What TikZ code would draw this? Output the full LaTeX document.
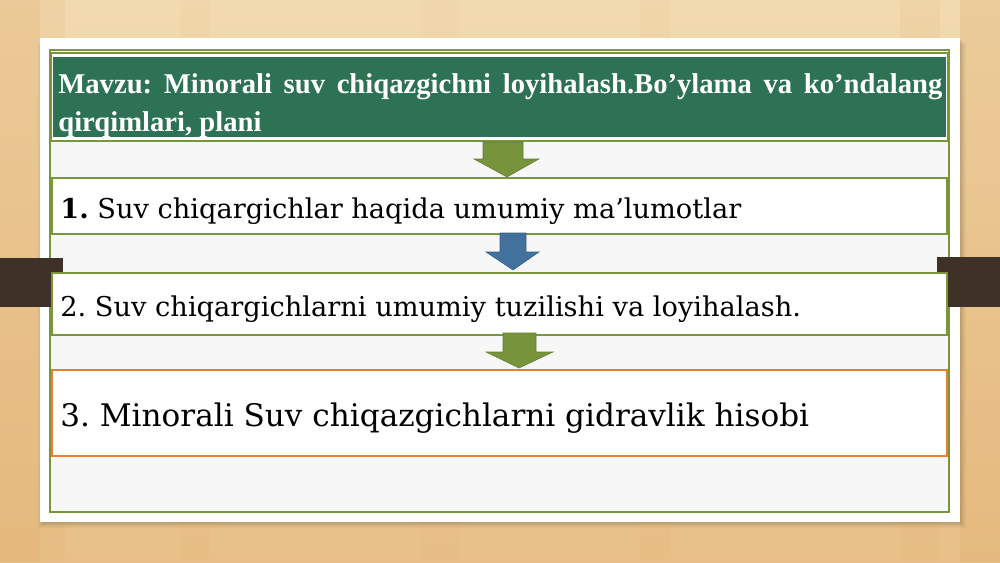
\documentclass[tikz,border=0pt]{standalone}
\usepackage{fontspec}
\setmainfont{DejaVu Serif}
\newfontfamily\titlefont{Liberation Serif}
\frenchspacing
\definecolor{wood}{RGB}{232,192,135}
\definecolor{woodlight}{RGB}{242,218,176}
\definecolor{woodstripe}{RGB}{224,172,108}
\definecolor{framegreen}{RGB}{122,150,58}
\definecolor{titlegreen}{RGB}{46,114,86}
\definecolor{arrowgreen}{RGB}{119,147,60}
\definecolor{arrowblue}{RGB}{65,113,156}
\definecolor{boxorange}{RGB}{237,125,49}
\definecolor{tabbrown}{RGB}{62,49,40}
\definecolor{panel}{RGB}{247,247,247}
\tikzset{
  stepbox/.style={draw=framegreen, fill=white, line width=.6pt},
  steptext/.style={anchor=base west, inner sep=0pt, font=\fontsize{15.5}{18}\selectfont},
  greenarrow/.style={fill=arrowgreen, draw=arrowgreen!85!black, line width=.3pt},
  bluearrow/.style={fill=arrowblue, draw=arrowblue!85!black, line width=.3pt}
}
\begin{document}
\begin{tikzpicture}[x=0.2mm,y=-0.2mm]
\useasboundingbox (0,0) rectangle (1000,562);
% wooden table
\shade [top color=woodlight, bottom color=wood] (0,0) rectangle (1000,562);
\foreach \x/\w/\o in {0/40/.35, 40/25/.15, 180/30/.08, 420/40/.06, 640/30/.08, 900/40/.12, 960/40/.3}
  \fill [woodstripe, opacity=\o] (\x,0) rectangle (\x+\w,562);
% card with shadow
\foreach \s/\o in {6/.04, 4/.06, 2/.08}
  \fill [black, opacity=\o] (40-\s+4,38+\s) rectangle (960+\s,522+\s);
\fill [white] (40,38) rectangle (960,522);
\fill [panel] (50,50) rectangle (949,512);
\draw [framegreen, line width=.6pt] (50,50) rectangle (949,512);
% side tabs
\fill [tabbrown] (0,258) rectangle (63,307);
\fill [tabbrown] (937,257) rectangle (1000,307);
% title bar
\draw [framegreen, fill=white, line width=.6pt] (51,53) rectangle (948,141);
\fill [titlegreen] (53,57) rectangle (946,137);
\node [anchor=north west, inner sep=0pt, text width=176.8mm, align=justify,
  text=white, font=\titlefont\bfseries\fontsize{16.3}{22}\selectfont] (title) at (58,73)
  {Mavzu: Minorali suv chiqazgichni loyihalash.Bo’ylama va ko’ndalang\linebreak
   qirqimlari, plani};
% steps
\draw [stepbox] (52,178) rectangle (947,234);
\node [steptext] (step1) at (60,218) {\textbf{1.} Suv chiqargichlar haqida umumiy ma’lumotlar};
\draw [stepbox] (52,273) rectangle (947,335);
\node [steptext] (step2) at (60,316) {2. Suv chiqargichlarni umumiy tuzilishi va loyihalash.};
\draw [stepbox, draw=boxorange] (52,370) rectangle (947,456);
\node [steptext, font=\fontsize{17.7}{21}\selectfont] (step3) at (60,426)
  {3. Minorali Suv chiqazgichlarni gidravlik hisobi};
% arrows between the steps
\draw [greenarrow] (483,142) -- (523,142) -- (523,159) -- (539,159) -- (507,177)
  -- (474,159) -- (483,159) -- cycle;
\draw [bluearrow] (500,233) -- (526,233) -- (526,252) -- (539,252) -- (513,270)
  -- (486,252) -- (500,252) -- cycle;
\draw [greenarrow] (503,333) -- (536,333) -- (536,352) -- (553,352) -- (519,368)
  -- (486,352) -- (503,352) -- cycle;
\end{tikzpicture}
\end{document}
